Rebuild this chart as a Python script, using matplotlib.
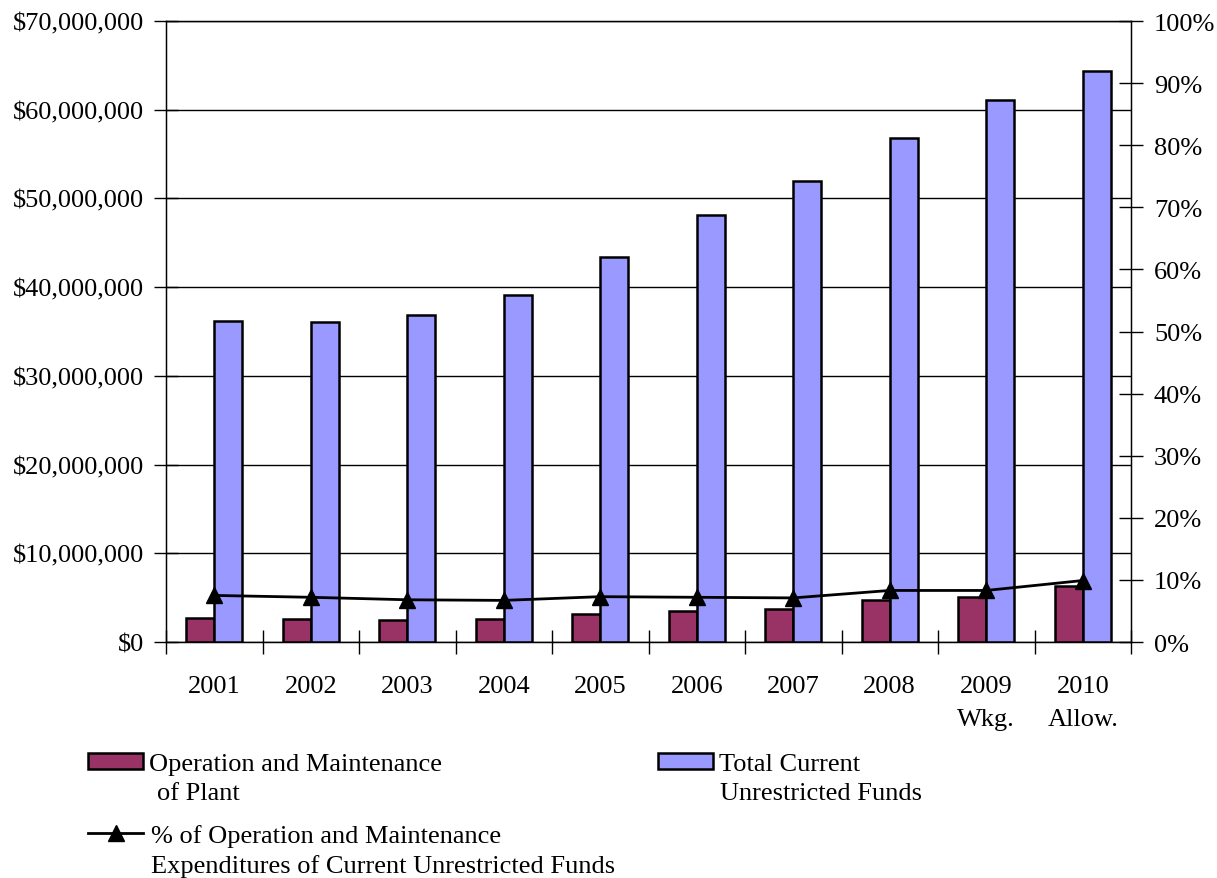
import matplotlib
matplotlib.use('Agg')
import matplotlib.pyplot as plt
from matplotlib.patches import Rectangle
from matplotlib.lines import Line2D
from matplotlib.ticker import FuncFormatter, MultipleLocator

years = ['2001', '2002', '2003', '2004', '2005', '2006', '2007', '2008', '2009\nWkg.', '2010\nAllow.']
om_plant = [2.7e6, 2.56e6, 2.45e6, 2.56e6, 3.16e6, 3.46e6, 3.69e6, 4.73e6, 5.04e6, 6.35e6]
total_funds = [36.2e6, 36.07e6, 36.9e6, 39.1e6, 43.4e6, 48.1e6, 52.0e6, 56.8e6, 61.1e6, 64.4e6]
pct_om = [7.5, 7.2, 6.8, 6.7, 7.3, 7.2, 7.1, 8.3, 8.3, 9.9]

plt.rcParams['font.family'] = ['Liberation Serif', 'DejaVu Serif']
FS = 19
W, H = 1217, 879

fig = plt.figure(figsize=(W / 100, H / 100), dpi=100)
ax = fig.add_axes([166 / W, 1 - 643 / H, (1131 - 166) / W, (643 - 22) / H])

x = list(range(len(years)))
bw = 0.29
ax.bar([i - bw / 2 for i in x], om_plant, bw, color='#993366', edgecolor='black', linewidth=1.8, zorder=3)
ax.bar([i + bw / 2 for i in x], total_funds, bw, color='#9999FF', edgecolor='black', linewidth=1.8, zorder=3)

ax.set_xlim(-0.5, len(years) - 0.5)
ax.set_ylim(0, 70e6)
ax.yaxis.set_major_locator(MultipleLocator(10e6))
ax.yaxis.set_major_formatter(FuncFormatter(lambda v, p: '${:,.0f}'.format(v)))
ax.grid(axis='y', color='black', linewidth=1, zorder=0)
ax.set_xticks(x)
ax.set_xticklabels(years, fontsize=FS, linespacing=1.6)
ax.set_xticks([i - 0.5 for i in range(len(years) + 1)], minor=True)
ax.tick_params(axis='x', which='major', length=0, pad=24)
ax.tick_params(axis='x', which='minor', direction='inout', length=17, width=1)
ax.tick_params(axis='y', direction='inout', length=17, width=1, labelsize=FS, pad=7)
for s in ax.spines.values():
    s.set_linewidth(1)

ax2 = ax.twinx()
ax2.plot(x, [p / 100 for p in pct_om], color='black', linewidth=2, marker='^', markersize=12, zorder=5)
ax2.set_ylim(0, 1)
ax2.yaxis.set_major_locator(MultipleLocator(0.1))
ax2.yaxis.set_major_formatter(FuncFormatter(lambda v, p: '{:.0f}%'.format(v * 100)))
ax2.tick_params(axis='y', direction='inout', length=17, width=1, labelsize=FS, pad=8)

# legend, drawn by hand to match the layout
def fx(px):
    return px / W

def fy(py):
    return 1 - py / H

fig.add_artist(Rectangle((fx(88), fy(770)), fx(143) - fx(88), fy(754) - fy(770),
                         transform=fig.transFigure, facecolor='#993366', edgecolor='black', linewidth=1.8))
fig.add_artist(Rectangle((fx(658), fy(770)), fx(713) - fx(658), fy(754) - fy(770),
                         transform=fig.transFigure, facecolor='#9999FF', edgecolor='black', linewidth=1.8))
fig.add_artist(Line2D([fx(88), fx(143)], [fy(834), fy(834)], transform=fig.transFigure,
                      color='black', linewidth=2))
fig.add_artist(Line2D([fx(116)], [fy(834)], transform=fig.transFigure,
                      color='black', marker='^', markersize=12, linestyle='none'))

fig.text(fx(149), fy(771), 'Operation and Maintenance', fontsize=FS, va='baseline')
fig.text(fx(157), fy(800), 'of Plant', fontsize=FS, va='baseline')
fig.text(fx(719), fy(771), 'Total Current', fontsize=FS, va='baseline')
fig.text(fx(720), fy(800), 'Unrestricted Funds', fontsize=FS, va='baseline')
fig.text(fx(151), fy(843), '% of Operation and Maintenance', fontsize=FS, va='baseline')
fig.text(fx(151), fy(873), 'Expenditures of Current Unrestricted Funds', fontsize=FS, va='baseline')

fig.savefig('out.png', dpi=100)
